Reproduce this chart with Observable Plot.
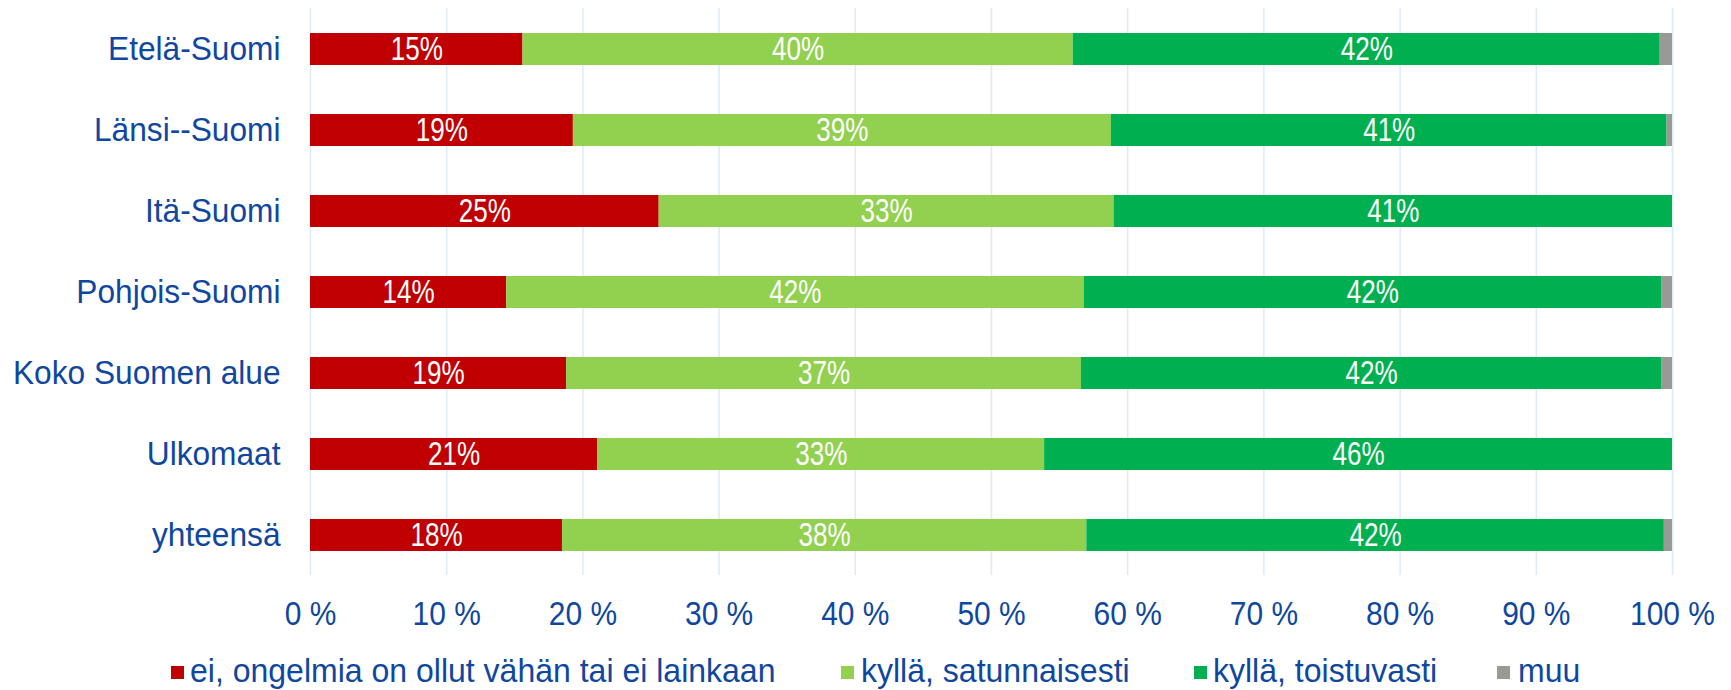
<!DOCTYPE html>
<html>
<head>
<meta charset="utf-8">
<script src="https://cdn.jsdelivr.net/npm/d3@7"></script>
<script src="https://cdn.jsdelivr.net/npm/@observablehq/plot@0.6"></script>
<style>
  html, body { margin: 0; padding: 0; background: #fff; }
  body { width: 1731px; height: 690px; overflow: hidden; font-family: "Liberation Sans", Arial, sans-serif; }
  #legend { position: relative; height: 45px; color: #0f47a0; font-size: 33px; }
  #legend .sw { position: absolute; width: 13px; height: 13px; top: 21px; }
  #legend .lab { position: absolute; top: 9px; line-height: 33px; white-space: nowrap; transform: scaleX(0.97); transform-origin: left center; }
</style>
</head>
<body>
<div id="chart"></div>
<div id="legend"></div>
<script>
const regions = ["Etelä-Suomi", "Länsi--Suomi", "Itä-Suomi", "Pohjois-Suomi", "Koko Suomen alue", "Ulkomaat", "yhteensä"];
const categories = ["ei, ongelmia on ollut vähän tai ei lainkaan", "kyllä, satunnaisesti", "kyllä, toistuvasti", "muu"];
const colors = ["#c00000", "#92d050", "#00b050", "#999995"];
// values (percent)
const eiOngelmia    = [15.6, 19.3, 25.6, 14.4, 18.8, 21.1, 18.5];
const satunnaisesti = [40.4, 39.5, 33.4, 42.4, 37.8, 32.8, 38.5];
const toistuvasti   = [43.1, 40.8, 41.0, 42.4, 42.6, 46.1, 42.4];
const muu           = [0.9, 0.4, 0.0, 0.8, 0.8, 0.0, 0.6];
// data labels as printed on the bars
const labelsEi   = ["15%", "19%", "25%", "14%", "19%", "21%", "18%"];
const labelsSat  = ["40%", "39%", "33%", "42%", "37%", "33%", "38%"];
const labelsTois = ["42%", "41%", "41%", "42%", "42%", "46%", "42%"];
const xTicks = [0, 10, 20, 30, 40, 50, 60, 70, 80, 90, 100];

const series = [
  [eiOngelmia, labelsEi],
  [satunnaisesti, labelsSat],
  [toistuvasti, labelsTois],
  [muu, null]
];
const data = [];
regions.forEach((r, i) => {
  series.forEach(([vals, labs], j) => {
    data.push({region: r, category: categories[j], value: vals[i], label: labs ? labs[i] : ""});
  });
});

const blue = "#0f47a0";
const chart = Plot.plot({
  width: 1731,
  height: 645,
  marginLeft: 310,
  marginRight: 59,
  marginTop: 8,
  marginBottom: 70,
  style: {fontFamily: "'Liberation Sans', Arial, sans-serif", color: blue, background: "white"},
  x: {domain: [0, 100], ticks: xTicks},
  y: {domain: regions, paddingInner: 0.606, paddingOuter: 0.292},
  color: {domain: categories, range: colors},
  marks: [
    Plot.ruleX(xTicks, {stroke: "#dcebf8", strokeWidth: 1.5}),
    Plot.barX(data, Plot.stackX({x: "value", y: "region", fill: "category", z: "category", order: categories})),
    Plot.text(data, Plot.stackX({x: "value", y: "region", z: "category", text: "label", order: categories, fill: "white", fontSize: 33})),
    Plot.axisX({ticks: xTicks, tickSize: 0, tickPadding: 25, fontSize: 34, tickFormat: d => d + " %", label: null}),
    Plot.axisY({tickSize: 0, tickPadding: 30, fontSize: 33, label: null})
  ]
});

// horizontally condense text (the reference uses a narrow rendering)
function condense(sel, sx) {
  chart.querySelectorAll(sel).forEach(t => {
    let tr = t.getAttribute("transform");
    if (!tr) {
      const x = t.getAttribute("x") || 0, y = t.getAttribute("y") || 0;
      t.removeAttribute("x"); t.removeAttribute("y");
      tr = `translate(${x},${y})`;
    }
    t.setAttribute("transform", tr + ` scale(${sx},1)`);
  });
}
condense("g[aria-label='x-axis tick label'] text", 0.88);
condense("g[aria-label='y-axis tick label'] text", 0.96);
condense("g[fill='white'] text, text[fill='white']", 0.79);
document.getElementById("chart").appendChild(chart);

const legend = document.getElementById("legend");
const swX = [171, 841, 1194, 1497];
const labX = [190, 861, 1213, 1518];
categories.forEach((c, i) => {
  const sw = document.createElement("div");
  sw.className = "sw";
  sw.style.background = colors[i];
  sw.style.left = swX[i] + "px";
  const t = document.createElement("div");
  t.className = "lab";
  t.style.left = labX[i] + "px";
  t.textContent = c;
  legend.appendChild(sw);
  legend.appendChild(t);
});
</script>
</body>
</html>
